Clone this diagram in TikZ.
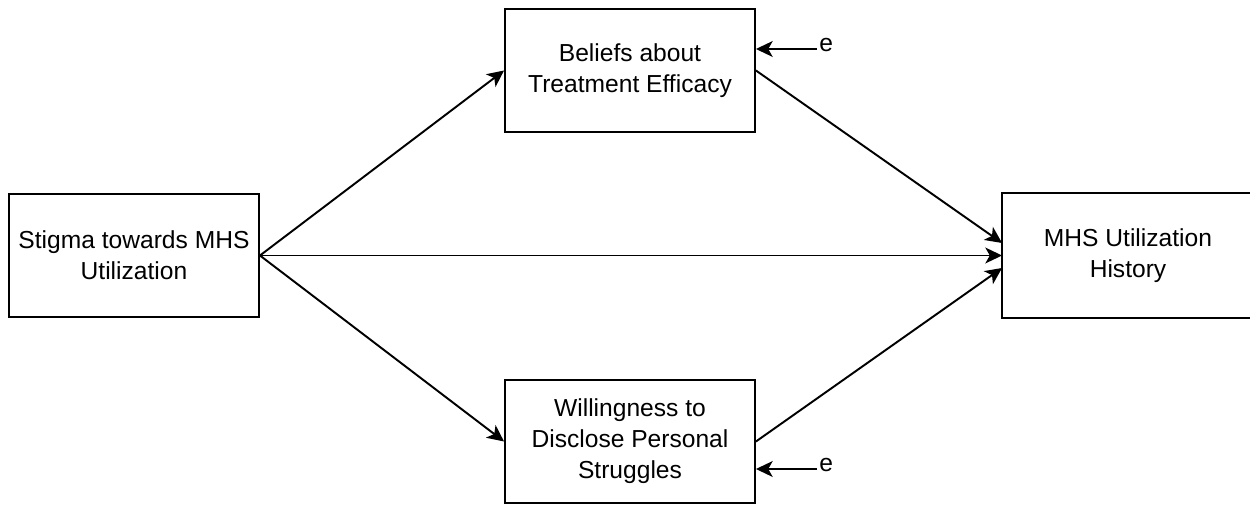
\documentclass[tikz,border=0pt]{standalone}
\usepackage{fontspec}
\setmainfont{Liberation Sans}
\usetikzlibrary{arrows.meta}

\begin{document}
\begin{tikzpicture}[x=0.02cm, y=-0.02cm,
  box/.style={draw, line width=1.1pt, minimum width=5cm, minimum height=2.46cm,
    align=center, font=\fontsize{14}{17.6}\selectfont},
  path/.style={line width=1.1pt, -{Stealth[length=9.5pt, width=9pt, inset=2.5pt]}}]
\useasboundingbox (0,0) rectangle (1250,506);
\def\off{0.25cm}
\node[box] (stigma) at (134,255.5) {Stigma towards MHS\\Utilization};
\node[box] (beliefs) at (630,70.5) {Beliefs about\\Treatment Efficacy};
\node[box] (disclose) at (630,441.5) {Willingness to\\Disclose Personal\\Struggles};
\node[box, draw=none] (history) at (1128,255.5) {MHS Utilization\\History};
% right box runs off the page
\draw[line width=1.1pt] (history.north east) ++(0.2cm,0) -- (history.north west)
  -- (history.south west) -- ++(5.2cm,0);
\draw[path] (stigma.east) -- (beliefs.west);
\draw[path] (stigma.east) -- (disclose.west);
\draw[path] (stigma.east) -- (history.west);
\draw[path] (beliefs.east) -- ([yshift=\off]history.west);
\draw[path] (disclose.east) -- ([yshift=-\off]history.west);
% error terms
\coordinate (eb) at (817,49);
\coordinate (ed) at (817,469);
\node[anchor=west, inner sep=0pt, font=\fontsize{14}{17.6}\selectfont] (ebl) at (819,45) {e};
\node[anchor=west, inner sep=0pt, font=\fontsize{14}{17.6}\selectfont] (edl) at (819,465) {e};
\draw[path] (eb) -- (beliefs.east |- eb);
\draw[path] (ed) -- (disclose.east |- ed);
\end{tikzpicture}
\end{document}
